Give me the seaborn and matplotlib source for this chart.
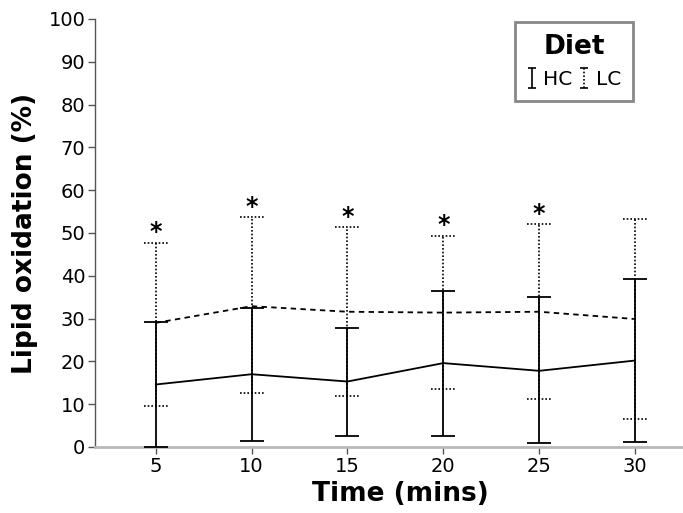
import numpy as np
import pandas as pd
import matplotlib
matplotlib.use("Agg")
import matplotlib.pyplot as plt
import seaborn as sns

# values
times = [5, 10, 15, 20, 25, 30]
hc_mean = [14.6, 17.0, 15.3, 19.6, 17.8, 20.2]
hc_upper = [29.3, 32.4, 27.7, 36.5, 35.0, 39.3]
hc_lower = [0.0, 1.5, 2.6, 2.6, 0.9, 1.1]
lc_mean = [29.0, 32.9, 31.6, 31.4, 31.6, 29.9]
lc_upper = [47.7, 53.7, 51.3, 49.3, 52.0, 53.3]
lc_lower = [9.6, 12.7, 11.8, 13.5, 11.2, 6.5]
significant = [True, True, True, True, True, False]
diets = ["HC", "LC"]

sns.set_style("ticks")
plt.rcParams["font.family"] = ["DejaVu Sans"]
plt.rcParams["text.color"] = "black"
plt.rcParams["axes.labelcolor"] = "black"

df = pd.DataFrame({
    "Time": times * 2,
    "Lipid": hc_mean + lc_mean,
    "Diet": ["HC"] * len(times) + ["LC"] * len(times),
})

fig = plt.figure(figsize=(6.83, 5.13), dpi=100)
ax = fig.add_axes([95 / 683, 66 / 513, 588 / 683, 428 / 513])

sns.lineplot(data=df, x="Time", y="Lipid", style="Diet", color="black",
             dashes={"HC": "", "LC": (3, 2.4)}, linewidth=1.3,
             legend=False, ax=ax)

t = np.array(times, dtype=float)

# HC error bars (solid)
hc_m = np.array(hc_mean)
ax.errorbar(t, hc_m, yerr=[hc_m - np.array(hc_lower), np.array(hc_upper) - hc_m],
            fmt="none", ecolor="black", elinewidth=1.3, capsize=8.6,
            capthick=1.3, zorder=3)

# LC error bars (dotted, with dotted caps)
dot = (0, (1, 1.2))
ax.vlines(t, lc_lower, lc_upper, colors="black", linewidth=1.2, linestyles=[dot], zorder=3)
cap = 0.626
ax.hlines(lc_upper, t - cap, t + cap, colors="black", linewidth=1.2, linestyles=[dot], zorder=3)
ax.hlines(lc_lower, t - cap, t + cap, colors="black", linewidth=1.2, linestyles=[dot], zorder=3)

# significance stars
for x, y, s in zip(times, lc_upper, significant):
    if s:
        ax.annotate("*", (x, y), xytext=(0, -1), textcoords="offset points",
                    ha="center", va="bottom", fontsize=17, fontweight="bold")

ax.set_xlim(1.835, 32.5)
ax.set_ylim(0, 100)
ax.set_xticks(times)
ax.set_xticklabels([str(v) for v in times])
ax.set_yticks(range(0, 101, 10))
ax.tick_params(axis="both", labelsize=14, length=5, width=1, color="#555555",
               labelcolor="black", pad=2)

sns.despine(ax=ax)
ax.spines["left"].set_color("#555555")
ax.spines["left"].set_linewidth(1)
ax.spines["bottom"].set_color("#b8b8b8")
ax.spines["bottom"].set_linewidth(2)

ax.set_xlabel("Time (mins)", fontsize=19, fontweight="bold")
ax.set_ylabel("Lipid oxidation (%)", fontsize=19, fontweight="bold")
ax.xaxis.set_label_coords(0.519, -0.08)
ax.yaxis.set_label_coords(-0.097, 0.5)

# legend proxies (no visible data)
h_hc = ax.errorbar([np.nan], [np.nan], yerr=[1], fmt="none", ecolor="black",
                   elinewidth=1.2, capsize=3, capthick=1.2, label="HC")
h_lc = ax.errorbar([np.nan], [np.nan], yerr=[1], fmt="none", ecolor="black",
                   elinewidth=1.2, capsize=3, capthick=1.2, label="LC")
h_lc[2][0].set_linestyle(dot)
leg = ax.legend(handles=[h_hc, h_lc], labels=diets, title="Diet", ncol=2,
                loc="upper right", bbox_to_anchor=(0.915, 0.993), borderaxespad=0,
                fontsize=14.5, title_fontproperties={"size": 19, "weight": "bold"},
                handlelength=0.45, handletextpad=0.35, columnspacing=0.35,
                borderpad=0.6, fancybox=False, framealpha=1)
leg.get_frame().set_edgecolor("#888888")
leg.get_frame().set_linewidth(2)

fig.savefig("out.png", dpi=100)
